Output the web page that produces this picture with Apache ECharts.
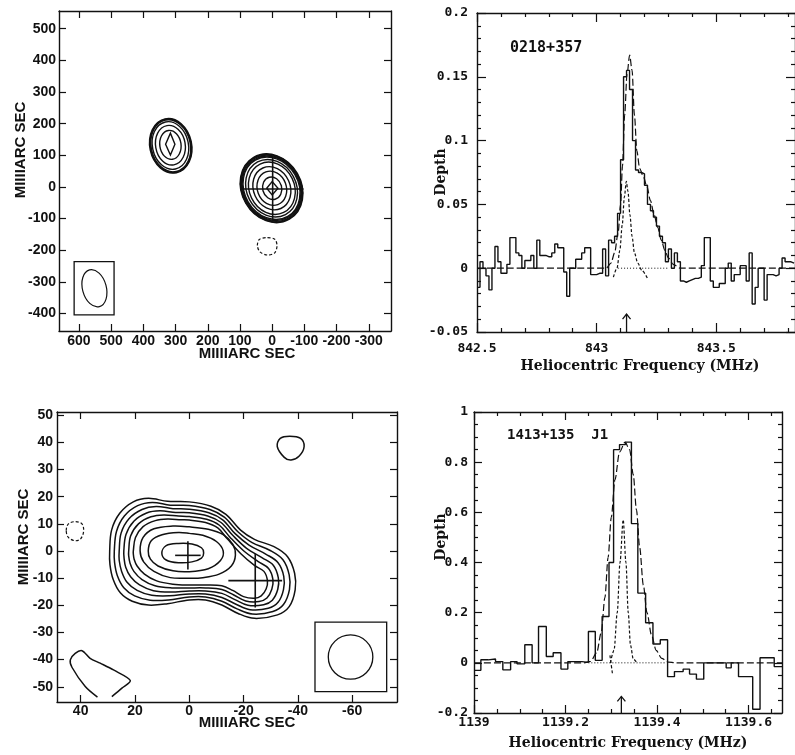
<!DOCTYPE html>
<html>
<head>
<meta charset="utf-8">
<script src="https://cdn.jsdelivr.net/npm/echarts@6/dist/echarts.min.js"></script>
<style>
  html, body { margin: 0; padding: 0; background: #fff; }
  #c { width: 795px; height: 755px; }
</style>
</head>
<body>
<div id="c"></div>
<script>
// ---------------- 0218+357 : VLBI map (milliarcsec) ----------------
const mapAXTicks = [600, 500, 400, 300, 200, 100, 0, -100, -200, -300];
const mapAYTicks = [500, 400, 300, 200, 100, 0, -100, -200, -300, -400];
// contour rings: [centreX, centreY, halfWidth, halfHeight, tiltDeg]
const mapACoreRings = [
  [2, -4, 92.5, 113, 30], [2, -4, 91, 111, 30], [2, -4, 89, 108.5, 30], [2, -4, 86.5, 105.5, 30], [2, -4, 84, 102.5, 30],
  [2, -4, 77, 94, 28], [1, -4, 70, 85, 26], [1, -4, 57, 70, 24], [1, -4, 45, 55, 20], [0, -4, 29.6, 36, 15]
];
const mapAKnotRings = [
  [315, 130, 65, 87, 12], [315, 130, 63, 85, 12], [315, 130, 61, 83, 12], [316, 131, 56, 76, 12], [316, 132, 46, 63, 10], [316, 133, 33, 46, 8]
];
const mapAPeaks = [
  [[17, -4], [0, 17], [-18, -4], [0, -25]],
  [[331, 135], [316, 170], [302, 135], [316, 101]]
];
const mapANegative = [
  [[46, -185], [40, -166], [18, -160], [-8, -165], [-15, -185], [-8, -208], [15, -215], [38, -205]]
];
const mapACross = [[-1.5, -6.5, 96, 102]];           // [x, y, halfWidth, halfHeight]
const mapABeamBox = [[615, -236, 491, -404]];        // [x1, y1, x2, y2]
const mapABeam = [[552, -320, 37, 60, 15]];

// ---------------- 1413+135 : VLBI map (milliarcsec) ----------------
const mapBXTicks = [40, 20, 0, -20, -40, -60];
const mapBYTicks = [50, 40, 30, 20, 10, 0, -10, -20, -30, -40, -50];
const mapBContours = [
  [[29.3,0],[28.6,7.7],[25.6,13.9],[20.6,18.1],[15,19.4],[8,18.3],[0,18.1],[-8,16.5],[-13.5,13.5],[-18.9,7.7],[-24,4.3],[-31.2,1.6],[-36.2,-2.1],[-38.8,-8.2],[-39,-14.3],[-36.8,-20.5],[-32.5,-23.5],[-24,-24.8],[-18,-23],[-12,-19.9],[-6,-18],[0,-18],[8,-19.4],[15,-19.9],[21,-18.5],[25.3,-15.5],[28,-10.5],[29.2,-5]],
  [[27.6,0],[26.8,7.2],[23.9,12.9],[19.0,16.7],[13.6,17.9],[7,16.9],[0,16.8],[-7.6,15.3],[-12.9,12.5],[-17.9,7.1],[-23,3.2],[-29.8,0.2],[-34.5,-3.2],[-36.8,-8.8],[-36.9,-14.2],[-34.7,-19.7],[-30.8,-22.3],[-23.2,-23.2],[-17.6,-21.3],[-12,-18.5],[-6,-16.9],[0,-16.9],[7.6,-18],[14.4,-18.1],[20.1,-16.5],[24.1,-13.5],[26.5,-9],[27.5,-4.2]],
  [[25.8,0],[25.1,6.6],[22.2,11.9],[17.4,15.3],[12.2,16.4],[6,15.6],[0,15.4],[-7.2,14.1],[-12.3,11.5],[-16.9,6.4],[-22,2.2],[-28.3,-1.2],[-32.7,-4.3],[-34.8,-9.3],[-34.7,-14.2],[-32.7,-18.9],[-29.1,-21.1],[-22.4,-21.6],[-17.2,-19.6],[-12,-17.1],[-6,-15.8],[0,-15.8],[7.2,-16.5],[13.8,-16.3],[19.2,-14.5],[22.9,-11.5],[24.9,-7.5],[25.8,-3.4]],
  [[24.1,0],[23.3,6.1],[20.4,11.0],[15.7,14.0],[10.8,14.8],[5,14.2],[0,14.1],[-6.8,12.9],[-11.7,10.5],[-16,5.8],[-21,1.1],[-26.9,-2.5],[-31,-5.3],[-32.8,-9.9],[-32.6,-14.1],[-30.6,-18.1],[-27.4,-19.8],[-21.6,-20],[-16.8,-17.9],[-12,-15.6],[-6,-14.7],[0,-14.7],[6.8,-15.1],[13.2,-14.6],[18.3,-12.5],[21.6,-9.5],[23.4,-6],[24.0,-2.6]],
  [[22.3,0],[21.6,5.5],[18.7,10.0],[14.1,12.6],[9.4,13.3],[4,12.9],[0,12.7],[-6.4,11.7],[-11.1,9.5],[-15,5.1],[-20,0.1],[-25.4,-3.9],[-29.2,-6.4],[-30.8,-10.4],[-30.4,-14.1],[-28.6,-17.3],[-25.7,-18.6],[-20.8,-18.4],[-16.4,-16.2],[-12,-14.2],[-6,-13.6],[0,-13.6],[6.4,-13.6],[12.6,-12.8],[17.4,-10.5],[20.4,-7.5],[21.8,-4.5],[22.3,-1.8]],
  [[20.6,0],[19.8,5],[17,9],[12.5,11.2],[8,11.8],[3,11.5],[0,11.4],[-6,10.5],[-10.5,8.5],[-14,4.5],[-19,-1],[-24,-5.3],[-27.5,-7.5],[-28.8,-11],[-28.3,-14],[-26.5,-16.5],[-24,-17.4],[-20,-16.8],[-16,-14.5],[-12,-12.8],[-6,-12.5],[0,-12.5],[6,-12.2],[12,-11],[16.5,-8.5],[19.2,-5.5],[20.3,-3],[20.6,-1]],
  [[18.1,0],[17,5],[13,8.2],[6,9.2],[0,8.9],[-7,8],[-12.5,6],[-16,2.5],[-17,-1.5],[-15.5,-5.5],[-11,-8.5],[-5,-9.8],[0,-10],[7,-9.8],[13,-7.5],[16.8,-4]],
  [[15.1,0],[14,3.8],[10,6],[4,6.8],[0,6.5],[-5,5.8],[-10,3.5],[-12.5,0],[-11.5,-3.5],[-7,-6.5],[0,-7.6],[6,-7.3],[11.5,-5.5],[14.3,-3]],
  [[10.1,-0.7],[8.5,2],[4,2.8],[-1,2.6],[-4.5,1.2],[-5.3,-0.7],[-4.5,-2.6],[-1,-4],[4,-4.3],[8.5,-3.3]],
  [[-32.4,38.5],[-33.5,41.5],[-37,42.3],[-41,41.5],[-42.3,38.5],[-40.5,35],[-37.5,33.5],[-35,34.5]]
];
const mapBNegative = [
  [[45.3,7.5],[44.5,10],[42,10.8],[39.5,10],[38.9,7.3],[40,4.5],[42,3.8],[44.5,5]]
];
const mapBOpen = [
  [[33.8,-53.8],[38.3,-49.9],[43.2,-42.8],[43.8,-40.1],[42,-37.7],[39.5,-36.7],[36.5,-39.5],[32.8,-41.3],[27.9,-43.8],[21.7,-47.7],[24.8,-50.5],[28.5,-53.6]]
];
const mapBCross = [[0.5, -1.6, 4.7, 5.2], [-24.3, -10.9, 9.9, 9.9]];
const mapBBeamBox = [[-46.3, -26.2, -72.7, -51.8]];
const mapBBeam = [[-59.4, -39.05, 8.2, 8.15, 0]];

// ---------------- 0218+357 : absorption spectrum ----------------
const specAStart = 842.5, specAChannel = 0.0125;
const specADepth = [
  -0.015, 0.005, 0.000, -0.006, -0.017, 0.000, 0.017, 0.005, -0.004, -0.004,
  0.003, 0.024, 0.024, 0.012, 0.010, 0.000, 0.006, 0.006, 0.010, 0.000,
  0.022, 0.010, 0.010, 0.009, 0.009, 0.012, 0.019, 0.016, 0.016, -0.003,
  -0.022, 0.000, 0.000, 0.007, 0.007, 0.012, 0.016, 0.016, -0.005, -0.005,
  -0.004, -0.004, 0.015, -0.006, 0.022, 0.020, 0.025, 0.043, 0.085, 0.150,
  0.155, 0.140, 0.100, 0.077, 0.075, 0.074, 0.065, 0.050, 0.045, 0.040,
  0.033, 0.025, 0.020, 0.005, 0.015, 0.000, 0.012, 0.005, -0.010, -0.011,
  -0.010, -0.009, -0.008, -0.008, -0.007, 0.002, 0.024, 0.024, -0.010, -0.015,
  -0.015, -0.012, -0.012, 0.000, 0.004, -0.010, -0.005, -0.005, 0.002, 0.002,
  -0.010, 0.012, -0.028, -0.015, 0.000, 0.000, -0.025, -0.005, -0.005, -0.006,
  -0.005, 0.000, 0.008, 0.005, 0.005, 0.004
];
const fitATotal = [[842.5,0],[843.04,0],[843.06,0.004],[843.075,0.012],[843.09,0.028],[843.1,0.05],[843.108,0.08],[843.117,0.12],[843.127,0.152],[843.138,0.167],[843.148,0.155],[843.158,0.12],[843.168,0.092],[843.18,0.078],[843.195,0.072],[843.21,0.064],[843.225,0.053],[843.24,0.042],[843.255,0.032],[843.27,0.022],[843.285,0.014],[843.3,0.008],[843.32,0.003],[843.35,0],[843.83,0]];
const fitANarrow = [[843.07,-0.007],[843.085,0.0],[843.097,0.014],[843.107,0.034],[843.116,0.056],[843.124,0.068],[843.131,0.06],[843.139,0.042],[843.148,0.025],[843.158,0.012],[843.172,0.004],[843.19,-0.002],[843.215,-0.009]];
const baseA = [[843.09, 0], [843.30, 0]];
const arrowA = [[843.125, -0.05, -0.036]];
const specAXMajor = [842.5, 843, 843.5];
const specAYMajor = [-0.05, 0, 0.05, 0.1, 0.15, 0.2];

// ---------------- 1413+135 J1 : absorption spectrum ----------------
const specBEdges = [1139.000, 1139.015, 1139.031, 1139.047, 1139.063, 1139.080, 1139.094, 1139.111, 1139.127, 1139.141,
  1139.158, 1139.173, 1139.190, 1139.205, 1139.221, 1139.236, 1139.250, 1139.265, 1139.280, 1139.295,
  1139.305, 1139.318, 1139.331, 1139.344, 1139.358, 1139.375, 1139.391, 1139.407, 1139.423, 1139.438,
  1139.457, 1139.471, 1139.486, 1139.502, 1139.518, 1139.534, 1139.551, 1139.562, 1139.578, 1139.593,
  1139.609, 1139.625, 1139.641, 1139.656];
const specBEnd = 1139.673;
const specBDepth = [-0.030, 0.012, 0.015, 0.005, -0.028, 0.005, -0.004, 0.072, 0.000, 0.145,
  0.025, 0.040, -0.025, 0.005, 0.005, 0.002, 0.125, 0.010, 0.185, 0.400,
  0.850, 0.870, 0.880, 0.555, 0.278, 0.160, 0.075, 0.092, -0.055, -0.035,
  -0.025, -0.045, -0.065, 0.000, 0.000, 0.000, -0.020, 0.000, -0.055, -0.055,
  -0.185, 0.020, 0.020, -0.015];
const fitBTotal = [[1139,0],[1139.24,0],[1139.255,0.006],[1139.268,0.04],[1139.278,0.12],[1139.286,0.26],[1139.293,0.42],[1139.3,0.58],[1139.308,0.73],[1139.318,0.84],[1139.33,0.88],[1139.34,0.85],[1139.348,0.75],[1139.355,0.61],[1139.362,0.46],[1139.37,0.31],[1139.378,0.2],[1139.388,0.11],[1139.398,0.05],[1139.41,0.018],[1139.425,0.003],[1139.44,0],[1139.673,0]];
const fitBNarrow = [[1139.298,0.0],[1139.306,0.05],[1139.313,0.2],[1139.319,0.4],[1139.326,0.57],[1139.332,0.4],[1139.337,0.2],[1139.342,0.07],[1139.348,0.015],[1139.356,0.0]];
const fitBWing = [[1139.297,0.03],[1139.303,-0.05]];
const baseB = [[1139.25, 0], [1139.42, 0]];
const arrowB = [[1139.322, -0.2, -0.134]];
const specBXMajor = [1139, 1139.2, 1139.4, 1139.6];
const specBYMajor = [-0.2, 0, 0.2, 0.4, 0.6, 0.8, 1];

// ---------------- drawing ----------------
const INK = '#111';
const SANS = '"Liberation Sans", Arial, sans-serif';
const MONO = '"DejaVu Sans Mono", monospace';
const SERIF = '"DejaVu Serif", serif';

function steps(a, b, d, skip) {
  const out = [];
  for (let k = 0; a + k * d <= b + d * 1e-3; k++) {
    const v = +(a + k * d).toFixed(4);
    if (!skip || !skip.some(s => Math.abs(s - v) < d * 1e-3)) out.push(v);
  }
  return out;
}
const plain = v => String(v);

const xAxes = [], yAxes = [];
function makeAxis(list, g, pos, range, inverse, showLine, ticks, len, labels, labelCfg) {
  list.push({
    type: 'value', gridIndex: g, position: pos, min: range[0], max: range[1], inverse: !!inverse,
    splitLine: { show: false },
    axisLine: { show: showLine, onZero: false, lineStyle: { color: INK, width: 1.4 } },
    axisTick: ticks ? { show: true, inside: true, length: len, customValues: ticks, lineStyle: { color: INK, width: 1.2 } } : { show: false },
    axisLabel: labels ? Object.assign({ show: true, customValues: labels, color: INK, fontWeight: 'bold', hideOverlap: false, formatter: plain }, labelCfg) : { show: false }
  });
  return list.length - 1;
}
function panel(g, p) {
  const xi = makeAxis(xAxes, g, 'bottom', p.x, p.xInv, true, p.xMajor, p.len, p.xMajor, p.xLab);
  makeAxis(xAxes, g, 'top', p.x, p.xInv, true, p.xMajor, p.len);
  if (p.xMinor) {
    makeAxis(xAxes, g, 'bottom', p.x, p.xInv, false, p.xMinor, p.minLen);
    makeAxis(xAxes, g, 'top', p.x, p.xInv, false, p.xMinor, p.minLen);
  }
  const yi = makeAxis(yAxes, g, 'left', p.y, false, true, p.yMajor, p.len, p.yMajor, p.yLab);
  makeAxis(yAxes, g, 'right', p.y, false, true, p.yMajor, p.len);
  if (p.yMinor) {
    makeAxis(yAxes, g, 'left', p.y, false, false, p.yMinor, p.minLen);
    makeAxis(yAxes, g, 'right', p.y, false, false, p.yMinor, p.minLen);
  }
  return { xi, yi };
}

const mapLab = { fontFamily: SANS, fontSize: 14 };
const specLab = { fontFamily: MONO, fontSize: 13 };

const pA = panel(0, { x: [-369, 662], xInv: true, y: [-455, 556], xMajor: mapAXTicks, yMajor: mapAYTicks, len: 7,
  xLab: Object.assign({ margin: 3 }, mapLab), yLab: Object.assign({ margin: 3 }, mapLab) });
const pS1 = panel(1, { x: [842.5, 843.829], y: [-0.05, 0.2], xMajor: specAXMajor, yMajor: specAYMajor, len: 9, minLen: 4,
  xMinor: steps(842.5, 843.8, 0.1, specAXMajor), yMinor: steps(-0.05, 0.2, 0.01, specAYMajor),
  xLab: Object.assign({ margin: 10 }, specLab), yLab: Object.assign({ margin: 9 }, specLab) });
const pB = panel(2, { x: [-76.5, 48.7], xInv: true, y: [-55.6, 51.2], xMajor: mapBXTicks, yMajor: mapBYTicks, len: 7,
  xLab: Object.assign({ margin: 2 }, mapLab), yLab: Object.assign({ margin: 4 }, mapLab) });
const pS2 = panel(3, { x: [1139, 1139.673], y: [-0.2, 1], xMajor: specBXMajor, yMajor: specBYMajor, len: 8, minLen: 4,
  xMinor: steps(1139, 1139.65, 0.05, specBXMajor), yMinor: steps(-0.2, 1, 0.05, specBYMajor),
  xLab: Object.assign({ margin: 3 }, specLab), yLab: Object.assign({ margin: 6 }, specLab) });

const stroke = (w, dash) => ({ fill: 'none', stroke: INK, lineWidth: w, lineDash: dash || null });

function ellipseSeries(ax, rows, w) {
  return { type: 'custom', xAxisIndex: ax.xi, yAxisIndex: ax.yi, clip: true, silent: true, data: rows,
    renderItem: (params, api) => {
      const c = api.coord([api.value(0), api.value(1)]);
      const s = api.size([api.value(2), api.value(3)]);
      return { type: 'ellipse', x: c[0], y: c[1], rotation: api.value(4) * Math.PI / 180,
        shape: { cx: 0, cy: 0, rx: Math.abs(s[0]), ry: Math.abs(s[1]) }, style: stroke(w) };
    } };
}
function pathSeries(ax, lines, opt) {
  return { type: 'custom', xAxisIndex: ax.xi, yAxisIndex: ax.yi, clip: true, silent: true,
    data: lines.map((pts, i) => [pts[0][0], pts[0][1], i]),
    renderItem: (params, api) => {
      const pts = lines[params.dataIndex].map(p => api.coord(p));
      return { type: opt.open ? 'polyline' : 'polygon', shape: { points: pts, smooth: opt.smooth || 0 }, style: stroke(opt.w || 1.3, opt.dash) };
    } };
}
function crossSeries(ax, rows) {
  return { type: 'custom', xAxisIndex: ax.xi, yAxisIndex: ax.yi, clip: true, silent: true, data: rows,
    renderItem: (params, api) => {
      const x = api.value(0), y = api.value(1), hw = api.value(2), hh = api.value(3);
      const a = api.coord([x - hw, y]), b = api.coord([x + hw, y]);
      const c = api.coord([x, y - hh]), d = api.coord([x, y + hh]);
      return { type: 'group', children: [
        { type: 'line', shape: { x1: a[0], y1: a[1], x2: b[0], y2: b[1] }, style: stroke(1.6) },
        { type: 'line', shape: { x1: c[0], y1: c[1], x2: d[0], y2: d[1] }, style: stroke(1.6) } ] };
    } };
}
function boxSeries(ax, rows) {
  return { type: 'custom', xAxisIndex: ax.xi, yAxisIndex: ax.yi, clip: true, silent: true, data: rows,
    renderItem: (params, api) => {
      const a = api.coord([api.value(0), api.value(1)]), b = api.coord([api.value(2), api.value(3)]);
      return { type: 'rect', shape: { x: Math.min(a[0], b[0]), y: Math.min(a[1], b[1]), width: Math.abs(b[0] - a[0]), height: Math.abs(b[1] - a[1]) }, style: stroke(1.3) };
    } };
}
function arrowSeries(ax, rows) {
  return { type: 'custom', xAxisIndex: ax.xi, yAxisIndex: ax.yi, clip: false, silent: true, data: rows,
    renderItem: (params, api) => {
      const b = api.coord([api.value(0), api.value(1)]), t = api.coord([api.value(0), api.value(2)]);
      return { type: 'group', children: [
        { type: 'line', shape: { x1: b[0], y1: b[1], x2: t[0], y2: t[1] }, style: stroke(1.3) },
        { type: 'polyline', shape: { points: [[t[0] - 4, t[1] + 5], [t[0], t[1]], [t[0] + 4, t[1] + 5]] }, style: stroke(1.3) } ] };
    } };
}
function stepSeries(ax, pts) {
  return { type: 'line', xAxisIndex: ax.xi, yAxisIndex: ax.yi, data: pts, step: 'end', symbol: 'none', clip: true, silent: true,
    lineStyle: { color: INK, width: 1.4 } };
}
function curveSeries(ax, pts, dash, w) {
  return { type: 'line', xAxisIndex: ax.xi, yAxisIndex: ax.yi, data: pts, smooth: 0.3, smoothMonotone: 'x', symbol: 'none', clip: true, silent: true,
    lineStyle: { color: INK, width: w || 1.2, type: dash } };
}

const specAPoints = specADepth.map((d, i) => [+(specAStart + i * specAChannel).toFixed(4), d]);
specAPoints.push([+(specAStart + specADepth.length * specAChannel).toFixed(4), specADepth[specADepth.length - 1]]);
const specBPoints = specBEdges.map((f, i) => [f, specBDepth[i]]);
specBPoints.push([specBEnd, specBDepth[specBDepth.length - 1]]);

const series = [
  ellipseSeries(pA, mapACoreRings, 1.4),
  ellipseSeries(pA, mapAKnotRings, 1.4),
  pathSeries(pA, mapAPeaks, { w: 1.4 }),
  pathSeries(pA, mapANegative, { w: 1.2, dash: [3, 2], smooth: 0.3 }),
  crossSeries(pA, mapACross),
  boxSeries(pA, mapABeamBox),
  ellipseSeries(pA, mapABeam, 1.2),

  pathSeries(pB, mapBContours, { w: 1.5, smooth: 0.35 }),
  pathSeries(pB, mapBNegative, { w: 1.2, dash: [3, 2], smooth: 0.35 }),
  pathSeries(pB, mapBOpen, { w: 1.5, open: true, smooth: 0.3 }),
  crossSeries(pB, mapBCross),
  boxSeries(pB, mapBBeamBox),
  ellipseSeries(pB, mapBBeam, 1.3),

  curveSeries(pS1, fitATotal, [7, 3], 1.2),
  curveSeries(pS1, fitANarrow, [3, 2], 1.2),
  curveSeries(pS1, baseA, [1, 2], 1),
  stepSeries(pS1, specAPoints),
  arrowSeries(pS1, arrowA),

  curveSeries(pS2, fitBTotal, [7, 3], 1.2),
  curveSeries(pS2, fitBNarrow, [3, 2], 1.2),
  curveSeries(pS2, fitBWing, [3, 2], 1.2),
  curveSeries(pS2, baseB, [1, 2], 1),
  stepSeries(pS2, specBPoints),
  arrowSeries(pS2, arrowB)
];

function label(text, x, y, font, rot, align) {
  return { type: 'text', x, y, rotation: rot || 0, silent: true,
    style: { text, font, fill: INK, textAlign: align || 'center', textVerticalAlign: 'middle' } };
}
const mapTitleFont = 'bold 15px ' + SANS;
const specTitleFont = 'bold 14px ' + SERIF;

const option = {
  animation: false,
  backgroundColor: '#fff',
  grid: [
    { left: 59, top: 11, width: 332, height: 320 },
    { left: 477, top: 13, width: 319, height: 319 },
    { left: 57, top: 412, width: 340, height: 290 },
    { left: 474, top: 412, width: 308, height: 301 }
  ],
  xAxis: xAxes,
  yAxis: yAxes,
  series,
  graphic: [
    label('MIIIIARC SEC', 21, 150, mapTitleFont, Math.PI / 2),
    label('MIIIIARC SEC', 247, 354, mapTitleFont),
    label('MIIIIARC SEC', 24, 537, mapTitleFont, Math.PI / 2),
    label('MIIIIARC SEC', 247, 723, mapTitleFont),
    label('Depth', 441, 172, specTitleFont, Math.PI / 2),
    label('Heliocentric Frequency (MHz)', 640, 366, specTitleFont),
    label('Depth', 441, 537, specTitleFont, Math.PI / 2),
    label('Heliocentric Frequency (MHz)', 628, 743, specTitleFont),
    label('0218+357', 510, 48, 'bold 15px ' + MONO, 0, 'left'),
    label('1413+135  J1', 507, 435, 'bold 14px ' + MONO, 0, 'left')
  ]
};

const chart = echarts.init(document.getElementById('c'));
chart.setOption(option);
</script>
</body>
</html>
